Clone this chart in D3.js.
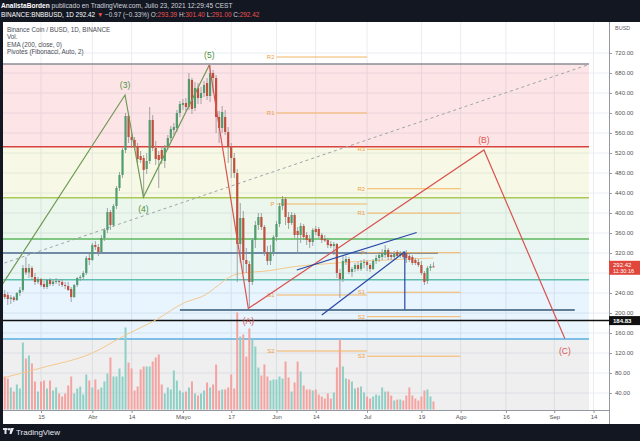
<!DOCTYPE html>
<html>
<head>
<meta charset="utf-8">
<script src="https://cdnjs.cloudflare.com/ajax/libs/d3/7.8.5/d3.min.js"></script>
<style>
  body { margin: 0; background: #131722; }
  svg { display: block; font-family: "Liberation Sans", Arial, sans-serif; }
</style>
</head>
<body>
<svg id="chart" width="640" height="441"></svg>
<script>
// ---- data ----
var startDay = '2021-03-02';
// [open, high, low, close] per day from Mar 2 to Jul 23
var ohlc = [
  [252,258,232,238],[238,246,228,232],[236,242,216,228],[228,236,218,231],[231,234,222,226],[226,242,224,240],[240,252,234,246],
  [246,296,242,290],[290,312,276,281],[281,298,270,290],[290,294,266,272],[272,280,256,262],[262,272,258,268],[268,270,252,256],
  [258,264,248,252],[252,268,248,266],[266,270,254,258],[258,266,254,263],[263,270,258,264],[264,266,254,262],[262,268,252,256],
  [256,262,248,254],[254,262,244,246],[248,252,222,232],[232,258,230,256],[256,272,252,270],[270,276,264,272],[272,284,266,280],
  [280,314,276,310],[310,318,296,306],
  [306,340,304,336],[336,344,326,332],[332,338,314,322],[322,356,318,350],[350,370,344,366],[366,410,360,402],[402,406,366,376],
  [376,418,372,414],[414,454,408,450],[450,482,444,476],[476,530,470,526],[526,600,520,594],[594,598,540,552],[552,560,530,546],
  [546,552,526,532],[532,540,500,508],[514,524,500,506],[510,516,430,486],[488,520,478,504],[504,612,498,586],[586,596,524,530],
  [530,544,496,508],[516,524,450,506],[526,534,498,508],[504,536,490,530],[532,556,526,550],[550,574,544,568],[566,580,556,572],
  [570,606,562,600],[600,624,592,618],
  [616,628,606,620],[620,630,604,612],[612,680,606,668],[666,670,598,608],[610,662,604,650],[650,660,618,630],[630,652,618,640],
  [640,664,632,656],[660,670,626,634],[634,696,622,680],[680,686,640,670],[670,676,560,592],[592,604,540,570],[570,614,560,602],
  [592,606,556,562],[562,572,500,532],[532,540,470,510],[510,520,470,480],[480,488,262,338],[338,420,300,390],[390,404,280,306],
  [306,330,280,298],[298,304,210,262],[262,350,256,346],[346,384,330,376],[376,400,366,392],[392,400,366,372],[372,376,314,322],
  [322,334,296,304],[304,336,296,322],[322,356,314,352],
  [352,384,344,378],[378,420,372,414],[414,434,406,428],[428,432,376,392],[392,402,368,380],[380,402,376,396],[396,400,350,356],
  [364,372,318,356],[356,380,340,374],[374,378,346,352],[356,362,336,346],[348,356,330,342],[342,370,334,366],[368,374,356,362],
  [368,372,350,354],[356,360,340,346],[348,356,342,345],[346,350,330,336],[338,344,330,334],[334,342,316,338],[338,340,270,280],
  [280,288,230,268],[268,316,262,304],[302,314,296,308],[308,312,278,282],[282,292,272,288],[288,300,282,296],[296,302,284,288],
  [288,306,284,300],[300,308,290,302],
  [302,306,284,296],[296,300,282,288],[288,308,286,304],[304,316,298,310],[310,322,302,316],[312,328,306,320],[316,336,310,326],
  [326,330,306,312],[316,322,306,312],[312,324,306,318],[322,326,310,314],[314,324,310,320],[320,324,308,312],[320,326,300,310],
  [314,320,302,306],[312,316,296,300],[306,310,296,300],[302,308,292,296],[296,304,276,280],[280,284,256,262],[264,294,258,290],
  [290,298,284,293.4],[293.39,301.4,291,292.42]
];
// volume per day (relative units, same order)
var volume = [
  30,33,31,22,18,25,21,67,51,54,46,28,18,28,29,21,29,19,22,16,13,16,24,33,16,21,23,15,35,29,
  22,30,20,22,28,36,52,33,33,41,33,82,47,41,19,23,40,43,43,43,48,52,55,25,16,22,20,39,29,19,
  17,18,22,28,16,14,16,19,27,22,25,45,19,20,20,22,35,21,97,73,75,53,81,70,63,42,34,45,33,29,30,
  30,33,31,48,32,18,27,48,38,24,20,20,19,20,15,13,11,16,11,17,42,70,43,31,30,28,21,22,23,17,
  13,11,13,15,14,22,18,18,14,9,10,10,9,14,22,14,11,9,13,19,20,13,8
];
// EMA 200 sampled along the line
var emaPoints = [
  ['2021-03-01', 68], ['2021-03-15', 90], ['2021-04-01', 120], ['2021-04-12', 156], ['2021-04-22', 186],
  ['2021-05-02', 222], ['2021-05-07', 232], ['2021-05-19', 278], ['2021-05-30', 285], ['2021-06-06', 292],
  ['2021-06-21', 300], ['2021-07-23', 310]
];
var priceTicks = [40, 80, 120, 160, 200, 240, 280, 320, 360, 400, 440, 480, 520, 560, 600, 640, 680, 720];
var timeTicks = ['2021-03-15', '2021-04-01', '2021-04-14', '2021-05-01', '2021-05-17', '2021-06-01', '2021-06-14',
  '2021-07-01', '2021-07-19', '2021-08-01', '2021-08-16', '2021-09-01', '2021-09-14'];
var timeLabels = ['15', 'Abr', '14', 'Mayo', '17', 'Jun', '14', 'Jul', '19', 'Ago', '16', 'Sep', '14'];
// fibonacci retracement levels (price), drawn from fibFrom to fibTo
var fibLevels = [698, 532.6, 430.6, 348, 266.6, 148, -2];
var fibFrom = '2021-03-01', fibTo = '2021-09-12T12:00';
// monthly fibonacci pivots
var pivotsJun = [['R2', 712], ['R1', 600], ['P', 418], ['S1', 236], ['S2', 124]];
var pivotsJul = [['R3', 527.4], ['R2', 448.5], ['R1', 399.7], ['P', 320.6], ['S1', 241.5], ['S2', 192.7], ['S3', 113.6]];
// elliott waves
var impulse = [['2021-03-01T10:00', 250], ['2021-04-11T20:00', 636], ['2021-04-17T22:00', 432], ['2021-05-09T18:00', 696]];
var impulseLabels = ['', '(3)', '(4)', '(5)'];
var corrective = [['2021-05-09T18:00', 696], ['2021-05-22T16:00', 209], ['2021-08-08T17:00', 526], ['2021-09-04T12:00', 149]];
var correctiveLabels = ['', '(A)', '(B)', '(C)'];
// wedge
var wedgeUpper = [['2021-06-07T17:00', 286], ['2021-07-17T10:00', 361]];
var wedgeLower = [['2021-06-16T00:00', 196], ['2021-07-13T12:00', 322.6]];
var wedgeDrop = [['2021-07-13T12:00', 322.6], ['2021-07-13T12:00', 207]];
// dashed trend line
var trendLine = [['2021-03-01', 296], ['2021-09-12T12:00', 697]];
// horizontal rays [price, from, to]
var hRays = [[320, '2021-03-01', '2021-07-24T12:00'], [206, '2021-04-30', '2021-09-07T19:00']];
var supportLine = 184.83;
var lastPrice = 292.42;

// ---- helpers ----
function toDate(s) { return new Date(s.length > 10 ? s + ':00Z' : s + 'T00:00:00Z'); }

var svg = d3.select('#chart');
var L = 3, T = 22, R = 609, B = 410;

var x = d3.scaleUtc().domain([toDate('2021-03-15'), toDate('2021-09-14')]).range([41, 593.5]);
var y = d3.scaleLinear().domain([40, 720]).range([393, 53]);
var yv = d3.scaleLinear().domain([0, 100]).range([409.5, 309.5]);

var start = toDate(startDay);
var days = ohlc.map(function (d, i) {
  return { t: d3.utcDay.offset(start, i), o: d[0], h: d[1], l: d[2], c: d[3], v: volume[i] };
});

// frame
svg.append('rect').attr('width', 640).attr('height', 441).attr('fill', '#131722');
svg.append('rect').attr('x', L).attr('y', T).attr('width', 640 - L).attr('height', 424 - T).attr('fill', '#ffffff');

svg.append('defs').append('clipPath').attr('id', 'plot')
  .append('rect').attr('x', L).attr('y', T).attr('width', R - L).attr('height', B - T);
var g = svg.append('g').attr('clip-path', 'url(#plot)');

// grid
g.selectAll('.vg').data(timeTicks).enter().append('line')
  .attr('x1', function (d) { return x(toDate(d)); }).attr('x2', function (d) { return x(toDate(d)); })
  .attr('y1', T).attr('y2', B).attr('stroke', '#e9ecf1').attr('stroke-width', 1);
g.selectAll('.hg').data(priceTicks).enter().append('line')
  .attr('x1', L).attr('x2', R).attr('y1', function (d) { return y(d); }).attr('y2', function (d) { return y(d); })
  .attr('stroke', '#e9ecf1').attr('stroke-width', 1);

// fib bands
var bandFill = ['rgba(242,54,69,0.13)', 'rgba(188,205,47,0.12)', 'rgba(76,175,80,0.11)', 'rgba(8,153,129,0.09)',
  'rgba(33,150,243,0.1)', 'rgba(120,123,134,0.12)'];
var lineCol = ['#8a8d96', '#d9433f', '#a8c955', '#5cb85c', '#5fbfae', '#5aaee0'];
var fx0 = x(toDate(fibFrom)), fx1 = x(toDate(fibTo));
for (var k = 0; k < fibLevels.length - 1; k++) {
  g.append('rect').attr('x', fx0).attr('width', fx1 - fx0)
    .attr('y', y(fibLevels[k])).attr('height', y(fibLevels[k + 1]) - y(fibLevels[k]))
    .attr('fill', bandFill[k]);
}
for (k = 0; k < fibLevels.length - 1; k++) {
  g.append('line').attr('x1', fx0).attr('x2', fx1).attr('y1', y(fibLevels[k])).attr('y2', y(fibLevels[k]))
    .attr('stroke', lineCol[k]).attr('stroke-width', 1.5);
}

// volume
g.selectAll('.vol').data(days).enter().append('rect')
  .attr('x', function (d) { return x(d.t) - 1; }).attr('width', 2)
  .attr('y', function (d) { return yv(d.v); }).attr('height', function (d) { return yv(0) - yv(d.v); })
  .attr('fill', function (d) { return d.c >= d.o ? '#8fd0c6' : '#f4a3a0'; });

// horizontal rays
hRays.forEach(function (r, i) {
  g.append('line').attr('x1', x(toDate(r[1]))).attr('x2', x(toDate(r[2])))
    .attr('y1', y(r[0])).attr('y2', y(r[0]))
    .attr('stroke', i === 0 ? '#4d6a8f' : '#5f7d95').attr('stroke-width', i === 0 ? 1.3 : 2);
});
g.append('line').attr('x1', L).attr('x2', R).attr('y1', y(supportLine)).attr('y2', y(supportLine))
  .attr('stroke', '#111').attr('stroke-width', 1.5);

// pivots
function drawPivots(levels, from, to) {
  var a = x(toDate(from)), b = x(toDate(to));
  levels.forEach(function (p) {
    g.append('line').attr('x1', a).attr('x2', b).attr('y1', y(p[1])).attr('y2', y(p[1]))
      .attr('stroke', '#f5b461').attr('stroke-width', 1);
    g.append('text').attr('x', a - 2).attr('y', y(p[1]) + 2).attr('text-anchor', 'end')
      .attr('font-size', 6).attr('fill', '#f0a040').text(p[0]);
  });
}
drawPivots(pivotsJun, '2021-06-01', '2021-07-01');
drawPivots(pivotsJul, '2021-07-01', '2021-08-01');

// EMA
var lineGen = d3.line().x(function (d) { return x(toDate(d[0])); }).y(function (d) { return y(d[1]); });
g.append('path').datum(emaPoints).attr('d', lineGen.curve(d3.curveMonotoneX))
  .attr('fill', 'none').attr('stroke', '#f6c88c').attr('stroke-width', 1);
lineGen.curve(d3.curveLinear);

// dashed trend
g.append('path').datum(trendLine).attr('d', lineGen)
  .attr('fill', 'none').attr('stroke', '#a0a3aa').attr('stroke-width', 1).attr('stroke-dasharray', '3,3');

// candles
var cg = g.append('g');
cg.selectAll('.wick').data(days).enter().append('line')
  .attr('x1', function (d) { return x(d.t); }).attr('x2', function (d) { return x(d.t); })
  .attr('y1', function (d) { return y(d.h); }).attr('y2', function (d) { return y(d.l); })
  .attr('stroke', '#8d8f94').attr('stroke-width', 0.8);
cg.selectAll('.body').data(days).enter().append('rect')
  .attr('x', function (d) { return x(d.t) - 1.1; }).attr('width', 2.2)
  .attr('y', function (d) { return y(Math.max(d.o, d.c)); })
  .attr('height', function (d) { return Math.max(1, Math.abs(y(d.o) - y(d.c))); })
  .attr('fill', function (d) { return d.c >= d.o ? '#4f9d6e' : '#c0503e'; });

// waves
g.append('path').datum(impulse).attr('d', lineGen)
  .attr('fill', 'none').attr('stroke', '#6f9a55').attr('stroke-width', 1.2);
g.append('path').datum(corrective).attr('d', lineGen)
  .attr('fill', 'none').attr('stroke', '#d9534f').attr('stroke-width', 1.2);
[wedgeUpper, wedgeLower, wedgeDrop].forEach(function (w) {
  g.append('path').datum(w).attr('d', lineGen)
    .attr('fill', 'none').attr('stroke', '#2748a8').attr('stroke-width', 1.2);
});
function waveLabels(pts, labels, color) {
  pts.forEach(function (p, i) {
    if (!labels[i]) return;
    var prev = pts[i - 1][1];
    var up = p[1] > prev;
    g.append('text').attr('x', x(toDate(p[0]))).attr('y', y(p[1]) + (up ? -7 : 15))
      .attr('text-anchor', 'middle').attr('font-size', 8.5).attr('fill', color).text(labels[i]);
  });
}
waveLabels(impulse, impulseLabels, '#4f8f3a');
waveLabels(corrective, correctiveLabels, '#d9534f');

// legend
var legend = ['Binance Coin / BUSD, 1D, BINANCE', 'Vol.', 'EMA (200, close, 0)', 'Pivotes (Fibonacci, Auto, 2)'];
legend.forEach(function (s, i) {
  svg.append('text').attr('x', 7).attr('y', 31.5 + i * 7.5).attr('font-size', 6.3)
    .attr('fill', '#4a4d55').text(s);
});

// price axis (the 280 label sits under the last-price tag, so it is left blank)
var ay = svg.append('g').attr('transform', 'translate(' + R + ',0)')
  .call(d3.axisRight(y).tickValues(priceTicks)
    .tickFormat(function (d) { return Math.abs(y(d) - y(lastPrice)) < 9 ? '' : d3.format('.2f')(d); })
    .tickSize(3));
ay.select('.domain').attr('stroke', '#9598a1').attr('d', 'M0.5,' + T + 'V424');
ay.selectAll('.tick line').attr('stroke', '#9598a1');
ay.selectAll('text').attr('font-size', 6).attr('fill', '#555').attr('font-family', '"Liberation Sans", Arial, sans-serif');
svg.append('text').attr('x', 615).attr('y', 30).attr('font-size', 5.5).attr('fill', '#666').text('BUSD');

// price labels
svg.append('rect').attr('x', R).attr('y', y(lastPrice) - 6).attr('width', 31).attr('height', 14).attr('fill', '#e0463c');
svg.append('text').attr('x', 613).attr('y', y(lastPrice) + 0.5).attr('font-size', 6).attr('fill', '#fff').text('292.42');
svg.append('text').attr('x', 613).attr('y', y(lastPrice) + 6.5).attr('font-size', 5.5).attr('fill', '#fff').text('11:30:16');
svg.append('rect').attr('x', R).attr('y', y(supportLine) - 4.5).attr('width', 31).attr('height', 9).attr('fill', '#111');
svg.append('text').attr('x', 613).attr('y', y(supportLine) + 2.2).attr('font-size', 6).attr('font-weight', 'bold')
  .attr('fill', '#fff').text('184.83');

// time axis
var ax = svg.append('g').attr('transform', 'translate(0,' + B + ')')
  .call(d3.axisBottom(x).tickValues(timeTicks.map(toDate)).tickFormat(function (d, i) { return timeLabels[i]; }).tickSize(3));
ax.select('.domain').attr('stroke', '#9598a1').attr('d', 'M' + L + ',0.5H' + R);
ax.selectAll('.tick line').attr('stroke', '#9598a1');
ax.selectAll('text').attr('font-size', 6).attr('fill', '#555').attr('dy', '0.55em')
  .attr('font-family', '"Liberation Sans", Arial, sans-serif');

// header
var h1 = svg.append('text').attr('x', 1).attr('y', 8).attr('font-size', 6.6).attr('fill', '#d1d4dc');
h1.append('tspan').attr('font-weight', 'bold').attr('fill', '#ffffff').text('AnalistaBorden');
h1.append('tspan').text(' publicado en TradingView.com, Julio 23, 2021 12:29:45 CEST');
var h2 = svg.append('text').attr('x', 1).attr('y', 17).attr('font-size', 6.4).attr('fill', '#d1d4dc');
h2.append('tspan').attr('fill', '#ffffff').text('BINANCE:BNBBUSD, 1D 292.42 ');
h2.append('tspan').attr('fill', '#ef5350').text('▼');
h2.append('tspan').text(' −0.97 (−0.33%) O:');
h2.append('tspan').attr('fill', '#ef5350').text('293.39');
h2.append('tspan').text(' H:');
h2.append('tspan').attr('fill', '#ef5350').text('301.40');
h2.append('tspan').text(' L:');
h2.append('tspan').attr('fill', '#ef5350').text('291.00');
h2.append('tspan').text(' C:');
h2.append('tspan').attr('fill', '#ef5350').text('292.42');

// footer logo
var logo = svg.append('g').attr('transform', 'translate(3,428)').attr('fill', '#e6e8ee');
logo.append('rect').attr('x', 0).attr('y', 0).attr('width', 4.5).attr('height', 2);
logo.append('rect').attr('x', 1.5).attr('y', 0).attr('width', 2).attr('height', 6);
logo.append('circle').attr('cx', 6).attr('cy', 1.2).attr('r', 1.2);
logo.append('path').attr('d', 'M7.5,0 L11,0 L8.5,6 L6.5,6 Z');
svg.append('text').attr('x', 16).attr('y', 434.5).attr('font-size', 8).attr('fill', '#e6e8ee').text('TradingView');
</script>
</body>
</html>
